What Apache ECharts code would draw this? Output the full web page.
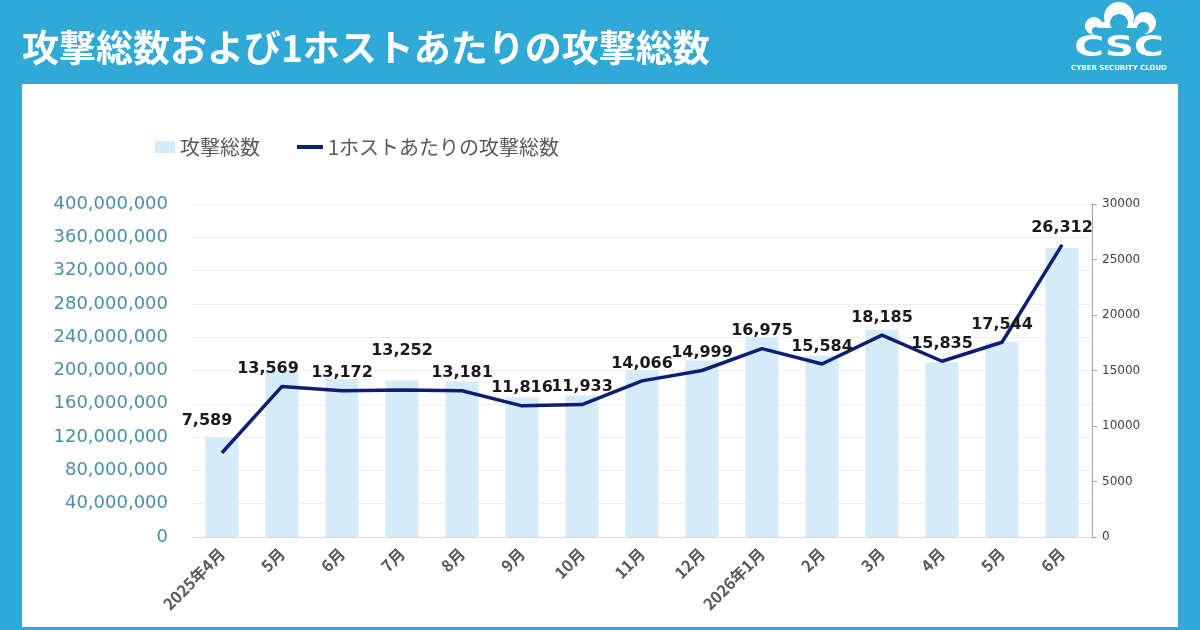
<!DOCTYPE html>
<html>
<head>
<meta charset="utf-8">
<script src="https://cdn.jsdelivr.net/npm/echarts@6/dist/echarts.min.js"></script>
<style>
html,body{margin:0;padding:0;background:#31a9d6;}
#main{width:1200px;height:630px;}
</style>
</head>
<body>
<div id="main"></div>
<script>
const categories = ['2025年4月','5月','6月','7月','8月','9月','10月','11月','12月','2026年1月','2月','3月','4月','5月','6月'];
const totalAttacks = [120000000,200000000,190000000,188000000,187000000,168000000,170000000,200000000,212000000,240000000,218000000,249000000,210000000,234000000,347000000];
const perHost = [7589,13569,13172,13252,13181,11816,11933,14066,14999,16975,15584,18185,15835,17544,26312];
const leftTicks = {min:0, max:400000000, interval:40000000};
const rightTicks = {min:0, max:30000, interval:5000};

const labelOffsets = {0:[-15,-14], 1:[-14,0], 3:[0,-22]};

const chart = echarts.init(document.getElementById('main'));
const jp = '"Noto Sans CJK JP", sans-serif';
const BLUE = '#31a9d6';

chart.setOption({
  backgroundColor:BLUE,
  textStyle:{fontFamily:jp},
  graphic:[
    {type:'rect', shape:{x:22,y:84,width:1156,height:543}, style:{fill:'#ffffff'}, z:-10},
    {type:'text', left:22, top:29, style:{text:'攻撃総数および1ホストあたりの攻撃総数', fill:'#ffffff', font:'bold 37px "Noto Sans CJK JP"'}},
    // logo cloud (outline style)
    {type:'group', children:[
      {type:'circle', shape:{cx:1119,cy:17,r:15}, style:{fill:'#ffffff'}},
      {type:'circle', shape:{cx:1145,cy:23,r:11}, style:{fill:'#ffffff'}},
      {type:'circle', shape:{cx:1094,cy:26,r:9}, style:{fill:'#ffffff'}},
      {type:'rect', shape:{x:1094,y:22,width:52,height:12}, style:{fill:'#ffffff'}},
      {type:'circle', shape:{cx:1119,cy:23,r:9}, style:{fill:BLUE}},
      {type:'circle', shape:{cx:1143,cy:28,r:6}, style:{fill:BLUE}},
      {type:'circle', shape:{cx:1096,cy:31,r:4}, style:{fill:BLUE}},
      {type:'rect', shape:{x:1096,y:28,width:47,height:6}, style:{fill:BLUE}},
      {type:'text', x:1119, y:49, style:{text:'CSC', fill:'#ffffff', font:'bold 28px "DejaVu Sans"', align:'center', verticalAlign:'middle'}, scaleX:1.45},
      {type:'text', x:1119, y:68, style:{text:'CYBER SECURITY CLOUD', fill:'#ffffff', font:'bold 7px "DejaVu Sans"', align:'center', verticalAlign:'middle'}}
    ]}
  ],
  legend:[
    {left:150, top:132, itemWidth:20, itemHeight:12, icon:'rect', data:['攻撃総数'], textStyle:{fontSize:20, color:'#595959', fontFamily:jp}},
    {left:292, top:132, itemWidth:26, itemHeight:4, icon:'rect', data:['1ホストあたりの攻撃総数'], textStyle:{fontSize:20, color:'#595959', fontFamily:jp}}
  ],
  grid:{left:192, right:108, top:204, bottom:93, containLabel:false},
  xAxis:{
    type:'category', data:categories, boundaryGap:true,
    axisLine:{lineStyle:{color:'#d9d9d9'}},
    axisTick:{show:false},
    axisLabel:{rotate:45, color:'#595959', fontSize:16, fontWeight:'bold', margin:14, interval:0, fontFamily:jp}
  },
  yAxis:[
    {type:'value', min:leftTicks.min, max:leftTicks.max, interval:leftTicks.interval,
     axisLine:{show:false}, axisTick:{show:false},
     splitLine:{lineStyle:{color:'#eeeeee'}},
     axisLabel:{color:'#4a8fa6', fontSize:18, margin:24, fontFamily:'"DejaVu Sans", sans-serif', formatter:v=>v.toLocaleString('en-US')}},
    {type:'value', position:'right', min:rightTicks.min, max:rightTicks.max, interval:rightTicks.interval,
     axisLine:{show:true, lineStyle:{color:'#a6a6a6'}}, axisTick:{show:true, length:5, lineStyle:{color:'#a6a6a6'}},
     splitLine:{show:false},
     axisLabel:{color:'#404040', fontSize:12, margin:10, fontFamily:'"DejaVu Sans", sans-serif', formatter:v=>String(v)}}
  ],
  series:[
    {name:'攻撃総数', type:'bar', yAxisIndex:0, data:totalAttacks, barWidth:'55%',
     itemStyle:{color:'#d5ebf7'}, z:1},
    {name:'1ホストあたりの攻撃総数', type:'line', yAxisIndex:1, symbol:'circle', symbolSize:1, showSymbol:true,
     lineStyle:{color:'#0c1f74', width:3.5}, itemStyle:{color:'#0c1f74'}, z:3,
     data:perHost.map((v,i)=>labelOffsets[i]?{value:v,label:{offset:labelOffsets[i]}}:v),
     label:{show:true, position:'top', distance:9, color:'#1a1a1a', fontSize:16, fontWeight:'bold', fontFamily:'"DejaVu Sans", sans-serif', formatter:p=>p.value.toLocaleString('en-US')}}
  ]
});
</script>
</body>
</html>
